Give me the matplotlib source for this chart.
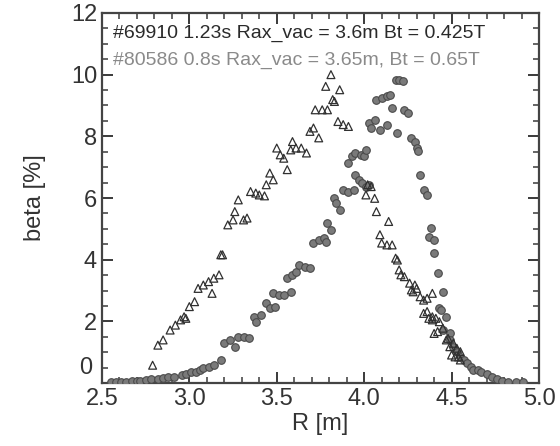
import matplotlib
matplotlib.use("Agg")
import matplotlib.pyplot as plt
from matplotlib.ticker import MultipleLocator, FuncFormatter

plt.rcParams['font.family'] = ['Liberation Sans', 'DejaVu Sans']

# Shot #69910 (open triangles)
tri_R = [2.79, 2.82, 2.85, 2.89, 2.92, 2.95, 2.97, 2.98, 3.00, 3.03, 3.05, 3.08, 3.11,
         3.13, 3.14, 3.17, 3.18, 3.19, 3.22, 3.25, 3.26, 3.28, 3.31, 3.33, 3.35, 3.38,
         3.40, 3.43, 3.44, 3.46, 3.48, 3.50, 3.52, 3.54, 3.56, 3.58, 3.59, 3.61, 3.64,
         3.67, 3.69, 3.71, 3.72, 3.74, 3.76, 3.78, 3.79, 3.81, 3.82, 3.83, 3.85, 3.86,
         3.88, 3.91, 4.01, 4.02, 4.04, 4.06, 4.07, 4.09, 4.10, 4.13, 4.14, 4.16, 4.18,
         4.19, 4.20, 4.21, 4.23, 4.26, 4.27, 4.28, 4.29, 4.30, 4.32, 4.34, 4.34, 4.36,
         4.36, 4.37, 4.39, 4.39, 4.39, 4.40, 4.41, 4.42, 4.43, 4.45, 4.47, 4.48, 4.49,
         4.50, 4.51, 4.52, 4.53, 4.54, 4.55, 4.55]
tri_beta = [0.58, 1.23, 1.40, 1.72, 1.88, 2.05, 2.15, 2.10, 2.48, 2.64, 3.07, 3.18, 3.29,
            2.91, 3.40, 3.51, 4.16, 4.16, 5.13, 5.29, 5.56, 5.94, 5.29, 5.35, 6.21, 6.16,
            6.10, 6.07, 6.43, 6.81, 6.59, 7.62, 7.40, 7.29, 6.92, 7.56, 7.83, 7.62, 7.62,
            7.46, 8.16, 8.27, 8.86, 7.95, 8.86, 9.62, 8.86, 10.00, 9.19, 9.13, 8.48, 9.51,
            8.38, 8.32, 6.10, 6.43, 6.37, 5.99, 5.56, 4.81, 4.54, 4.48, 5.24, 4.48, 4.05,
            3.99, 3.67, 3.51, 3.45, 3.24, 3.02, 2.96, 3.18, 3.07, 2.80, 2.69, 2.26, 2.75,
            2.32, 2.10, 2.91, 2.15, 2.05, 1.61, 2.10, 1.67, 1.99, 1.78, 1.40, 1.45, 1.18,
            0.91, 1.29, 0.85, 1.13, 0.85, 1.02, 0.75]

# Shot #80586 (filled circles)
cir_R = [2.55, 2.58, 2.61, 2.64, 2.67, 2.70, 2.72, 2.75, 2.78, 2.82, 2.85, 2.88, 2.91,
         2.96, 2.98, 3.01, 3.04, 3.06, 3.08, 3.11, 3.14, 3.18, 3.20, 3.23, 3.26, 3.28,
         3.31, 3.34, 3.37, 3.38, 3.41, 3.44, 3.46, 3.48, 3.49, 3.51, 3.54, 3.56, 3.58,
         3.59, 3.61, 3.63, 3.66, 3.69, 3.71, 3.74, 3.77, 3.78, 3.79, 3.81, 3.83, 3.84,
         3.86, 3.88, 3.91, 3.91, 3.93, 3.94, 3.95, 3.95, 3.97, 3.98, 3.99, 4.00, 4.01,
         4.01, 4.03, 4.03, 4.04, 4.06, 4.07, 4.09, 4.10, 4.13, 4.13, 4.15, 4.16, 4.18,
         4.19, 4.20, 4.22, 4.23, 4.25, 4.27, 4.29, 4.30, 4.31, 4.32, 4.34, 4.36, 4.37,
         4.38, 4.40, 4.40, 4.42, 4.43, 4.44, 4.45, 4.45, 4.47, 4.49, 4.49, 4.51, 4.53,
         4.55, 4.57, 4.59, 4.61, 4.62, 4.65, 4.67, 4.70, 4.73, 4.76, 4.79, 4.82, 4.87,
         4.91]
cir_beta = [0.05, 0.05, 0.04, 0.05, 0.06, 0.06, 0.08, 0.10, 0.12, 0.13, 0.15, 0.20, 0.20,
            0.26, 0.31, 0.37, 0.37, 0.42, 0.48, 0.53, 0.58, 0.75, 1.29, 1.40, 1.18, 1.50,
            1.50, 1.45, 2.15, 1.99, 2.21, 2.59, 2.42, 2.91, 2.48, 2.86, 2.86, 3.40, 2.96,
            3.51, 3.61, 3.83, 3.78, 3.72, 4.54, 4.64, 4.70, 4.59, 5.18, 4.97, 6.00, 5.83,
            5.62, 6.27, 6.21, 7.13, 7.35, 6.27, 7.46, 6.75, 6.59, 7.40, 6.48, 7.35, 7.56,
            6.37, 6.43, 8.43, 8.27, 8.54, 9.19, 8.21, 9.24, 9.30, 8.38, 9.35, 8.92, 9.84,
            8.10, 9.84, 9.78, 8.86, 8.76, 7.95, 7.83, 7.62, 7.51, 6.75, 6.27, 6.10, 4.75,
            5.02, 4.64, 4.21, 3.56, 2.42, 2.37, 2.96, 1.72, 2.15, 1.61, 1.40, 1.18, 1.02,
            0.85, 0.75, 0.64, 0.53, 0.42, 0.42, 0.37, 0.31, 0.20, 0.12, 0.08, 0.04, 0.04,
            0.03]

label1 = "#69910 1.23s Rax_vac = 3.6m Bt = 0.425T"
label2 = "#80586 0.8s Rax_vac = 3.65m, Bt = 0.65T"

fig = plt.figure(figsize=(5.6, 4.46), dpi=100)
ax = fig.add_axes([0.182, 0.141, 0.7805, 0.830])

ax.scatter(cir_R, cir_beta, s=30, marker='o', facecolor='#7a7a7a', edgecolor='#4a4a4a',
           linewidth=0.8, zorder=3)
ax.scatter(tri_R, tri_beta, s=32, marker='^', facecolor='none', edgecolor='#303030',
           linewidth=0.9, zorder=4)

ax.set_xlim(2.5, 5.0)
ax.set_ylim(0, 12)
ax.xaxis.set_major_locator(MultipleLocator(0.5))
ax.xaxis.set_minor_locator(MultipleLocator(0.1))
ax.yaxis.set_major_locator(MultipleLocator(2))
ax.yaxis.set_minor_locator(MultipleLocator(0.5))
ax.xaxis.set_major_formatter(FuncFormatter(lambda v, p: f"{v:.1f}"))
ax.yaxis.set_major_formatter(FuncFormatter(lambda v, p: "" if abs(v) < 1e-9 else f"{v:.0f}"))

tc = '#333333'
ax.tick_params(which='both', direction='in', top=True, right=True,
               color='#3a3a3a', labelcolor=tc, labelsize=17)
ax.tick_params(which='major', length=8, width=1.4)
ax.tick_params(which='minor', length=4, width=1.1)
for s in ax.spines.values():
    s.set_color('#444444')
    s.set_linewidth(1.6)

# zero label drawn slightly raised
ax.annotate("0", xy=(0, 0), xycoords='axes fraction', xytext=(-7, 11),
            textcoords='offset points', ha='right', va='center', fontsize=17, color=tc)

ax.set_xlabel("R [m]", fontsize=17, color=tc, labelpad=2)
ax.set_ylabel("beta [%]", fontsize=17, color=tc, labelpad=18)

ax.text(0.026, 0.945, label1, transform=ax.transAxes, fontsize=14, color='#2a2a2a',
        va='center', ha='left')
ax.text(0.026, 0.872, label2, transform=ax.transAxes, fontsize=14, color='#8a8a8a',
        va='center', ha='left')

fig.savefig("out.png", dpi=100)
